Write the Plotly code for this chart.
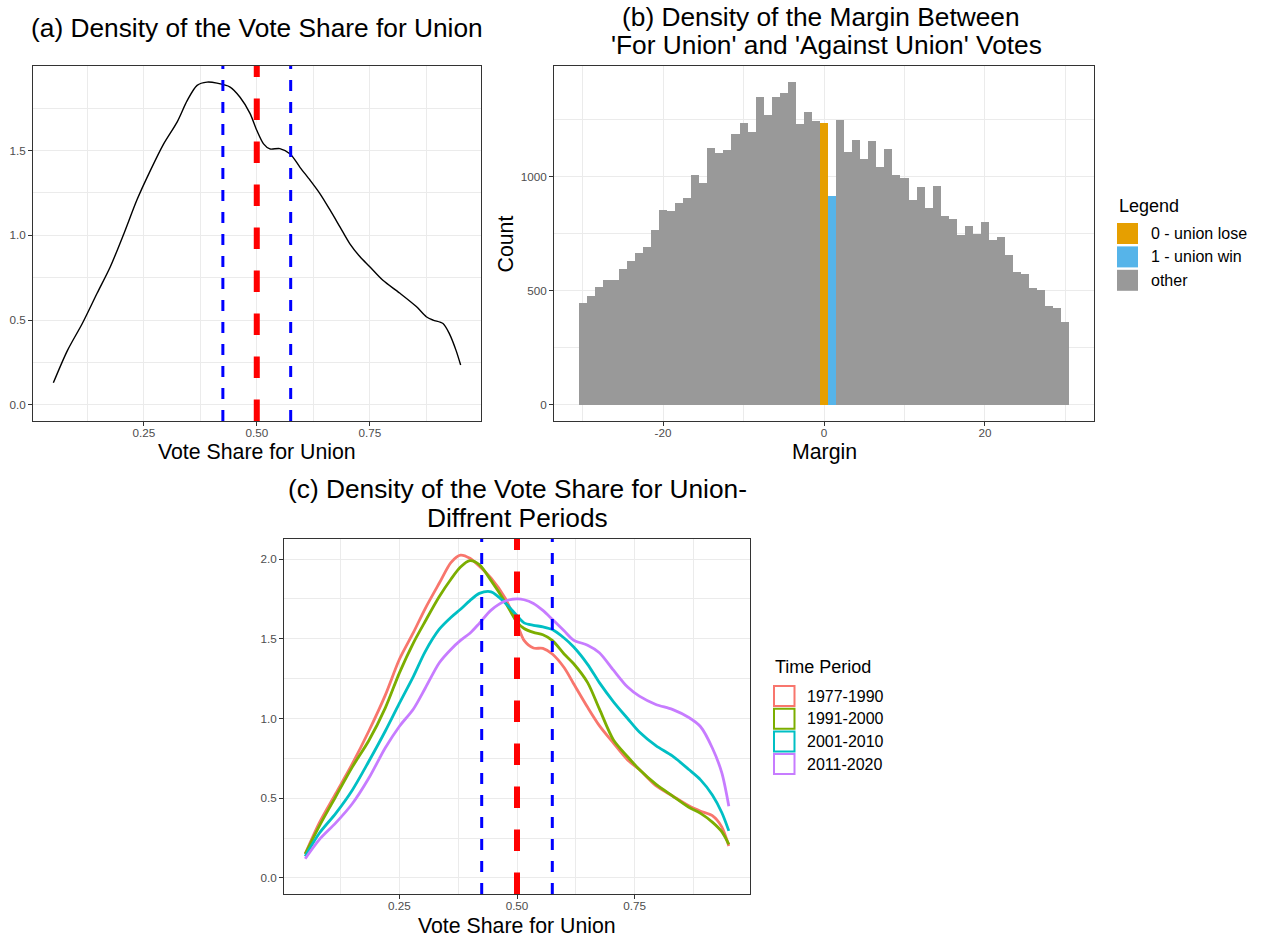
import plotly.graph_objects as go

W, H = 1266, 940
FONT = "Liberation Sans, Arial, sans-serif"

# ---------------- data ----------------
# (a) density of the union vote share, all elections
share_x = [0.050, 0.081, 0.114, 0.147, 0.176, 0.206, 0.235, 0.265, 0.294, 0.324,
           0.346, 0.368, 0.390, 0.412, 0.441, 0.463, 0.485, 0.500, 0.515, 0.529,
           0.551, 0.574, 0.596, 0.618, 0.640, 0.662, 0.684, 0.706, 0.728, 0.750,
           0.779, 0.816, 0.853, 0.875, 0.890, 0.912, 0.926, 0.941, 0.951]
share_density = [0.13, 0.32, 0.48, 0.66, 0.815, 1.01, 1.21, 1.385, 1.54, 1.67,
                 1.795, 1.885, 1.904, 1.898, 1.875, 1.815, 1.72, 1.62, 1.54, 1.51,
                 1.512, 1.48, 1.40, 1.325, 1.245, 1.15, 1.05, 0.95, 0.875, 0.815,
                 0.735, 0.66, 0.58, 0.52, 0.50, 0.48, 0.42, 0.32, 0.235]

# (b) histogram of the vote margin (binwidth 1)
margin_bins = list(range(-30, 31))
margin_counts = [447, 476, 514, 546, 547, 597, 629, 667, 693, 765,
                 854, 847, 883, 904, 1006, 971, 1123, 1101, 1114, 1188,
                 1236, 1196, 1350, 1267, 1350, 1366, 1413, 1229, 1283, 1244,
                 1236,
                 915, 1247, 1108, 1159, 1077, 1156, 1042, 1120, 1006, 994,
                 895, 956, 861, 958, 828, 812, 743, 782, 750, 800,
                 721, 733, 655, 582, 574, 511, 504, 432, 423, 362]
outcome_names = ["0 - union lose", "1 - union win", "other"]
outcome_bins = {0: "0 - union lose", 1: "1 - union win"}
outcome_colors = ["#E69F00", "#56B4E9", "#999999"]

# (c) density of the vote share by time period
period_grid = [0.05, 0.08, 0.115, 0.15, 0.185, 0.22, 0.25, 0.28, 0.305, 0.335,
               0.36, 0.38, 0.40, 0.42, 0.445, 0.475, 0.50, 0.515, 0.535, 0.555,
               0.575, 0.60, 0.62, 0.65, 0.675, 0.705, 0.735, 0.76, 0.795, 0.83,
               0.865, 0.89, 0.915, 0.935, 0.95]
period_names = ["1977-1990", "1991-2000", "2001-2010", "2011-2020"]
period_colors = ["#F8766D", "#7CAE00", "#00BFC4", "#C77CFF"]
dens_1977_1990 = [0.15, 0.345, 0.53, 0.715, 0.92, 1.145, 1.37, 1.54, 1.69, 1.85,
                  1.98, 2.025, 2.005, 1.955, 1.88, 1.755, 1.595, 1.49, 1.442, 1.44,
                  1.405, 1.32, 1.22, 1.07, 0.955, 0.845, 0.74, 0.68, 0.578, 0.515,
                  0.452, 0.418, 0.39, 0.32, 0.2]
dens_1991_2000 = [0.15, 0.325, 0.51, 0.695, 0.86, 1.065, 1.285, 1.475, 1.61, 1.765,
                  1.875, 1.95, 1.99, 1.965, 1.865, 1.73, 1.605, 1.565, 1.54, 1.525,
                  1.49, 1.405, 1.345, 1.225, 1.06, 0.865, 0.76, 0.68, 0.588, 0.515,
                  0.443, 0.405, 0.35, 0.29, 0.21]
dens_2001_2010 = [0.135, 0.28, 0.405, 0.55, 0.73, 0.92, 1.095, 1.265, 1.42, 1.56,
                  1.635, 1.685, 1.74, 1.785, 1.795, 1.725, 1.645, 1.6, 1.585, 1.575,
                  1.558, 1.505, 1.45, 1.34, 1.225, 1.105, 1.0, 0.915, 0.83, 0.765,
                  0.68, 0.615, 0.52, 0.41, 0.295]
dens_2011_2020 = [0.12, 0.24, 0.345, 0.465, 0.625, 0.815, 0.95, 1.06, 1.19, 1.35,
                  1.435, 1.49, 1.535, 1.597, 1.68, 1.737, 1.75, 1.745, 1.722, 1.678,
                  1.622, 1.55, 1.492, 1.46, 1.413, 1.303, 1.197, 1.14, 1.088, 1.057,
                  1.006, 0.948, 0.815, 0.66, 0.45]
period_density = [dens_1977_1990, dens_1991_2000, dens_2001_2010, dens_2011_2020]

# reference lines: 50% threshold and the +/- 7.5 point window
threshold = 0.5
window = [0.425, 0.575]

# ---------------- helpers ----------------
def fx(p):
    return p / W


def fy(p):
    return 1 - p / H


def expand(lo, hi, mult=0.05):
    d = (hi - lo) * mult
    return [lo - d, hi + d]


def axis_style(tickvals, ticktext, minor_vals, rng, standoff=0):
    return dict(
        range=rng, tickvals=tickvals, ticktext=ticktext,
        showline=True, linecolor="#333333", linewidth=1, mirror=True,
        ticks="outside", ticklen=4, tickwidth=1, tickcolor="#333333",
        ticklabelstandoff=standoff,
        showgrid=True, gridcolor="#EBEBEB", gridwidth=1.4, zeroline=False,
        tickfont=dict(family=FONT, size=11.7, color="#4D4D4D"),
        minor=dict(tickvals=minor_vals, showgrid=True, gridcolor="#EBEBEB",
                   gridwidth=0.7),
        fixedrange=True,
    )


# panel rectangles in pixels: left, right, top, bottom
PA = (33, 481, 66, 421)
PB = (554, 1094, 66, 421)
PC = (284, 750, 539, 894)

fig = go.Figure()

# (a)
fig.add_trace(go.Scatter(x=share_x, y=share_density, mode="lines",
                         line=dict(color="black", width=1.4, shape="spline", smoothing=0.8),
                         xaxis="x", yaxis="y", showlegend=False, hoverinfo="skip"))

# (b)
for name, color in zip(outcome_names, outcome_colors):
    xs, ys = [], []
    for b, c in zip(margin_bins, margin_counts):
        if outcome_bins.get(b, "other") == name:
            xs.append(b)
            ys.append(c)
    fig.add_trace(go.Bar(x=xs, y=ys, width=1, name=name,
                         marker=dict(color=color, line=dict(width=0)),
                         xaxis="x2", yaxis="y2", showlegend=False))

# (c)
for name, color, dens in zip(period_names, period_colors, period_density):
    fig.add_trace(go.Scatter(x=period_grid, y=dens, mode="lines", name=name,
                             line=dict(color=color, width=2.8, shape="spline", smoothing=0.8),
                             xaxis="x3", yaxis="y3", showlegend=False))

# vertical reference lines
shapes = []
for xa, ya in (("x", "y"), ("x3", "y3")):
    for v in window:
        shapes.append(dict(type="line", xref=xa, yref=ya + " domain", x0=v, x1=v,
                           y0=0, y1=1, line=dict(color="#0000FF", width=3, dash="11px,11px")))
    shapes.append(dict(type="line", xref=xa, yref=ya + " domain", x0=threshold, x1=threshold,
                       y0=0, y1=1, line=dict(color="#FF0000", width=6, dash="21.5px,21.5px")))

# legend for (b): filled keys
for i, (name, color) in enumerate(zip(outcome_names, outcome_colors)):
    top = 223 + i * 23.4
    shapes.append(dict(type="rect", xref="paper", yref="paper",
                       x0=fx(1117), x1=fx(1138), y0=fy(top + 21), y1=fy(top),
                       fillcolor=color, line=dict(width=0)))
# legend for (c): outlined keys
for i, (name, color) in enumerate(zip(period_names, period_colors)):
    top = 686 + i * 22.7
    shapes.append(dict(type="rect", xref="paper", yref="paper",
                       x0=fx(774), x1=fx(794.5), y0=fy(top + 20), y1=fy(top),
                       fillcolor="white", line=dict(color=color, width=2)))

ann = []


def text(x, y, s, size, anchor="center", angle=0):
    ann.append(dict(x=fx(x), y=fy(y), xref="paper", yref="paper", text=s,
                    showarrow=False, xanchor=anchor, yanchor="middle", textangle=angle,
                    font=dict(family=FONT, size=size, color="black")))


# panel titles
text(257, 28.5, "(a) Density of the Vote Share for Union", 26.3)
text(820.5, 17.5, "(b) Density of the Margin Between", 26.3)
text(827, 45, "'For Union' and 'Against Union' Votes", 26.3)
text(517, 489, "(c) Density of the Vote Share for Union-", 26.3)
text(517, 518, "Diffrent Periods", 26.3)

# axis titles
text(257, 452, "Vote Share for Union", 21.3)
text(824, 452, "Margin", 21.3)
text(505, 243.5, "Count", 21.3, angle=-90)
text(517, 926, "Vote Share for Union", 21.3)

# legends
text(1117, 206.5, "Legend", 18, anchor="left")
for i, name in enumerate(outcome_names):
    text(1149, 233.5 + i * 23.4, name, 16, anchor="left")
text(773, 667, "Time Period", 18, anchor="left")
for i, name in enumerate(period_names):
    text(805, 696 + i * 22.7, name, 16, anchor="left")

x_share_rng = expand(min(share_x), max(share_x))
y_share_rng = expand(0, max(share_density))
x_margin_rng = expand(margin_bins[0] - 0.5, margin_bins[-1] + 0.5)
y_margin_rng = expand(0, max(margin_counts))
x_period_rng = expand(min(period_grid), max(period_grid))
y_period_rng = expand(0, max(max(d) for d in period_density))

share_ticks = [0.25, 0.5, 0.75]
share_ticktext = ["0.25", "0.50", "0.75"]
share_minor = [0.125, 0.375, 0.625, 0.875]

fig.update_layout(
    width=W, height=H, margin=dict(l=0, r=0, t=0, b=0),
    paper_bgcolor="white", plot_bgcolor="white",
    barmode="overlay", bargap=0,
    showlegend=False,
    font=dict(family=FONT),
    shapes=shapes, annotations=ann,
    xaxis=dict(domain=[fx(PA[0]), fx(PA[1])], anchor="y",
               **axis_style(share_ticks, share_ticktext, share_minor, x_share_rng, -3)),
    yaxis=dict(domain=[fy(PA[3]), fy(PA[2])], anchor="x",
               **axis_style([0, 0.5, 1, 1.5], ["0.0", "0.5", "1.0", "1.5"],
                            [0.25, 0.75, 1.25, 1.75], y_share_rng)),
    xaxis2=dict(domain=[fx(PB[0]), fx(PB[1])], anchor="y2",
                **axis_style([-20, 0, 20], ["-20", "0", "20"], [-30, -10, 10, 30],
                             x_margin_rng, -3)),
    yaxis2=dict(domain=[fy(PB[3]), fy(PB[2])], anchor="x2",
                **axis_style([0, 500, 1000], ["0", "500", "1000"], [250, 750, 1250], y_margin_rng)),
    xaxis3=dict(domain=[fx(PC[0]), fx(PC[1])], anchor="y3",
                **axis_style(share_ticks, share_ticktext, share_minor, x_period_rng, -3)),
    yaxis3=dict(domain=[fy(PC[3]), fy(PC[2])], anchor="x3",
                **axis_style([0, 0.5, 1, 1.5, 2], ["0.0", "0.5", "1.0", "1.5", "2.0"],
                             [0.25, 0.75, 1.25, 1.75], y_period_rng)),
)

fig.write_html("out.html", config={"displayModeBar": False})
